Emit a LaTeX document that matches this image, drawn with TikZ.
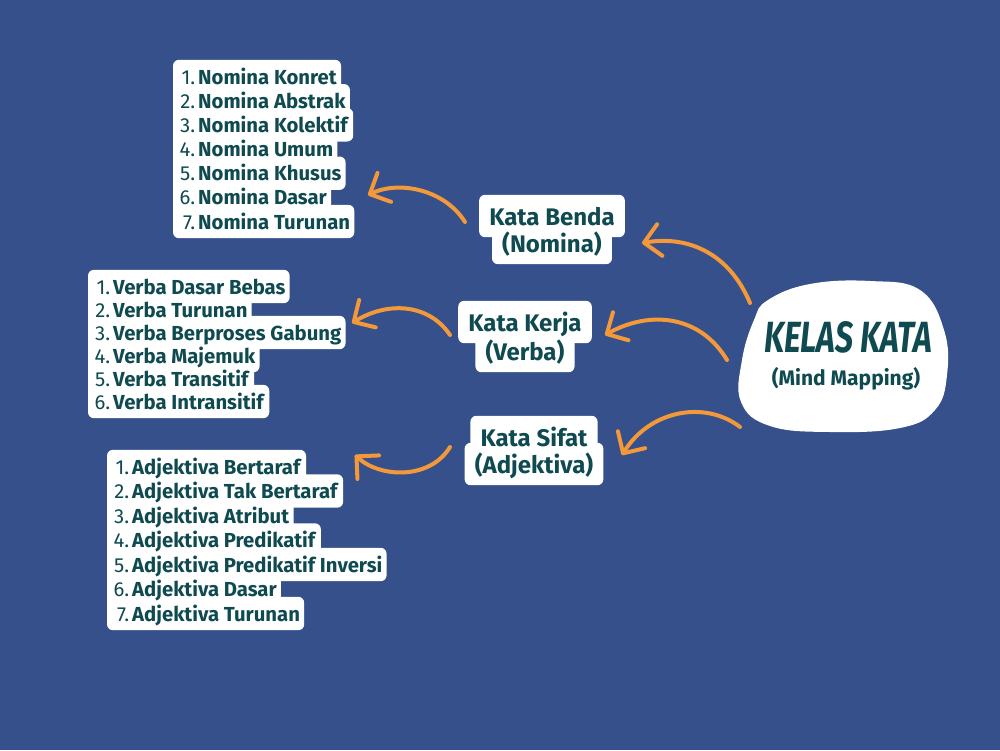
\documentclass[tikz,border=0pt]{standalone}
\usepackage{fontspec}
\setmainfont{Fira Sans}
\usetikzlibrary{arrows.meta}
\definecolor{bgblue}{HTML}{35508A}
\definecolor{ink}{HTML}{0E4A50}
\definecolor{orng}{HTML}{F3993A}
\pgfdeclarelayer{bglayer}
\pgfdeclarelayer{boxlayer}
\pgfsetlayers{bglayer,boxlayer,main}
\newcommand\itm[2]{\makebox[18pt][r]{#1.}\hspace{3pt}\textbf{#2}\hspace{5pt}}
\tikzset{
 listline/.style={anchor=base west, text height=19pt, text depth=4pt, inner ysep=5pt, inner xsep=4pt, text=ink, font=\fontsize{20.3}{20}\selectfont},
 catline/.style={anchor=base, text height=22pt, text depth=4pt, inner ysep=8pt, inner xsep=10pt, text=ink, font=\fontsize{24}{24}\selectfont\bfseries},
 hilite/.style={fill=white, rounded corners=6pt},
 arr/.style={draw=orng, line width=4pt, line cap=round, line join=round, -{Straight Barb[length=16pt,width=32pt,round]}}
}
\begin{document}
\begin{tikzpicture}[x=1pt,y=-1pt]
\begin{pgfonlayer}{bglayer}
\fill[bgblue] (0,0) rectangle (1000,750);
\end{pgfonlayer}
\useasboundingbox (0,0) rectangle (1000,750);
% central blob
\fill[white] plot[smooth cycle, tension=0.7] coordinates {(768,300) (810,284) (870,281) (920,290) (944,330) (947,375) (935,410) (900,428) (830,432) (770,426) (741,402) (742,360) (754,320)};
\node[text=ink, inner sep=0pt] (kelas) at (848,337) {\resizebox{168pt}{31pt}{\fontsize{40}{40}\selectfont\bfseries\itshape KELAS KATA}};
\node[text=ink, inner sep=0pt, font=\fontsize{21}{21}\selectfont\bfseries] (mind) at (846,379) {(Mind Mapping)};
% categories
\node[catline] (benda1) at (552,225) {Kata Benda};
\node[catline] (benda2) at (552,252) {(Nomina)};
\node[catline] (kerja1) at (525,331) {Kata Kerja};
\node[catline] (kerja2) at (525,360) {(Verba)};
\node[catline] (sifat1) at (534,446) {Kata Sifat};
\node[catline] (sifat2) at (534,473) {(Adjektiva)};
% nomina list
\node[listline] (n1) at (173,84) {\itm{1}{Nomina Konret}};
\node[listline] (n2) at (173,108.2) {\itm{2}{Nomina Abstrak}};
\node[listline] (n3) at (173,132.3) {\itm{3}{Nomina Kolektif}};
\node[listline] (n4) at (173,156.5) {\itm{4}{Nomina Umum}};
\node[listline] (n5) at (173,180.7) {\itm{5}{Nomina Khusus}};
\node[listline] (n6) at (173,204.8) {\itm{6}{Nomina Dasar}};
\node[listline] (n7) at (173,229) {\itm{7}{Nomina Turunan}};
% verba list
\node[listline] (v1) at (88,294) {\itm{1}{Verba Dasar Bebas}};
\node[listline] (v2) at (88,317) {\itm{2}{Verba Turunan}};
\node[listline] (v3) at (88,340) {\itm{3}{Verba Berproses Gabung}};
\node[listline] (v4) at (88,363) {\itm{4}{Verba Majemuk}};
\node[listline] (v5) at (88,386) {\itm{5}{Verba Transitif}};
\node[listline] (v6) at (88,409) {\itm{6}{Verba Intransitif}};
% adjektiva list
\node[listline] (j1) at (107,474) {\itm{1}{Adjektiva Bertaraf}};
\node[listline] (j2) at (107,498.5) {\itm{2}{Adjektiva Tak Bertaraf}};
\node[listline] (j3) at (107,523) {\itm{3}{Adjektiva Atribut}};
\node[listline] (j4) at (107,547.5) {\itm{4}{Adjektiva Predikatif}};
\node[listline] (j5) at (107,572) {\itm{5}{Adjektiva Predikatif Inversi}};
\node[listline] (j6) at (107,596.5) {\itm{6}{Adjektiva Dasar}};
\node[listline] (j7) at (107,621) {\itm{7}{Adjektiva Turunan}};
% white highlight backgrounds behind the texts
\begin{pgfonlayer}{boxlayer}
\foreach \nd in {benda1,benda2,kerja1,kerja2,sifat1,sifat2,n1,n2,n3,n4,n5,n6,n7,v1,v2,v3,v4,v5,v6,j1,j2,j3,j4,j5,j6,j7}
  \fill[hilite] (\nd.south west) rectangle (\nd.north east);
\end{pgfonlayer}
% arrow end points
\coordinate (a1s) at (750,303); \coordinate (a1e) at (642,243);
\coordinate (a2s) at (727,360); \coordinate (a2e) at (605,335);
\coordinate (a3s) at (740,427); \coordinate (a3e) at (622,455);
\coordinate (b1s) at (465,222); \coordinate (b1e) at (368,195);
\coordinate (b2s) at (450,335); \coordinate (b2e) at (352,323);
\coordinate (b3s) at (450,447); \coordinate (b3e) at (355,455);
\draw[arr] (a1s) .. controls (730,255) and (690,235) .. (a1e);
\draw[arr] (a2s) .. controls (700,315) and (650,310) .. (a2e);
\draw[arr] (a3s) .. controls (705,400) and (650,410) .. (a3e);
\draw[arr] (b1s) .. controls (445,190) and (400,180) .. (b1e);
\draw[arr] (b2s) .. controls (430,305) and (390,300) .. (b2e);
\draw[arr] (b3s) .. controls (430,480) and (380,478) .. (b3e);
\end{tikzpicture}
\end{document}
